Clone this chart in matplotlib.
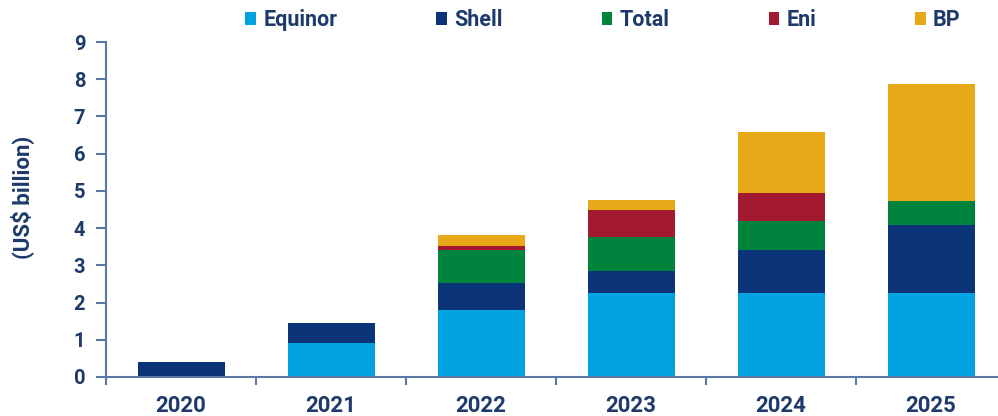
import numpy as np
import matplotlib
matplotlib.use('Agg')
import matplotlib.pyplot as plt
from matplotlib.patches import Patch

# data (US$ billion)
years = ['2020', '2021', '2022', '2023', '2024', '2025']
equinor = [0.0, 0.92, 1.81, 2.27, 2.27, 2.27]
shell = [0.40, 0.53, 0.71, 0.58, 1.13, 1.82]
total = [0.0, 0.0, 0.89, 0.91, 0.80, 0.65]
eni = [0.0, 0.0, 0.11, 0.72, 0.74, 0.0]
bp = [0.0, 0.0, 0.30, 0.27, 1.63, 3.14]

names = ['Equinor', 'Shell', 'Total', 'Eni', 'BP']
colours = ['#00A3E0', '#0B3478', '#00843D', '#A3192F', '#E8A919']
txt = '#1D3A6B'
axcol = '#5A78A6'

plt.rcParams['font.family'] = ['Roboto', 'DejaVu Sans']
plt.rcParams['font.weight'] = 'bold'

fig = plt.figure(figsize=(9.98, 4.16), dpi=100)
ax = fig.add_axes([106/998, 39/416, 900/998, 335/416])

x = np.arange(len(years))
bottom = np.zeros(len(years))
for vals, c in zip([equinor, shell, total, eni, bp], colours):
    ax.bar(x, vals, width=0.58, bottom=bottom, color=c, linewidth=0)
    bottom += np.array(vals)

ax.set_xlim(-0.5, 5.5)
ax.set_ylim(0, 9)
ax.set_yticks(range(10))
ax.set_xticks(x)
ax.set_xticklabels(years)
ax.set_xticks(np.arange(-0.5, 5.5, 1), minor=True)
ax.tick_params(axis='x', which='major', length=0, pad=13, labelsize=16, labelcolor=txt)
ax.tick_params(axis='x', which='minor', length=6, width=1.5, color=axcol)
ax.tick_params(axis='y', length=7, width=1.5, color=axcol, pad=8, labelsize=14.5, labelcolor=txt)
for s in ['top', 'right']:
    ax.spines[s].set_visible(False)
for s in ['left', 'bottom']:
    ax.spines[s].set_color(axcol)
    ax.spines[s].set_linewidth(1.5)

fig.text(22/998, 219/416, '(US$ billion)', rotation=90, ha='center', va='center',
         fontsize=16, color=txt, fontweight='bold')

handles = [Patch(facecolor=c, edgecolor='none') for c in colours]
fig.legend(handles, names, loc='center left', bbox_to_anchor=(226/998, 396/416),
           ncol=5, frameon=False, fontsize=15.5, handlelength=0.5, handleheight=0.55,
           handletextpad=0.33, columnspacing=4.6, labelcolor=txt)

fig.savefig('out.png', dpi=100)
